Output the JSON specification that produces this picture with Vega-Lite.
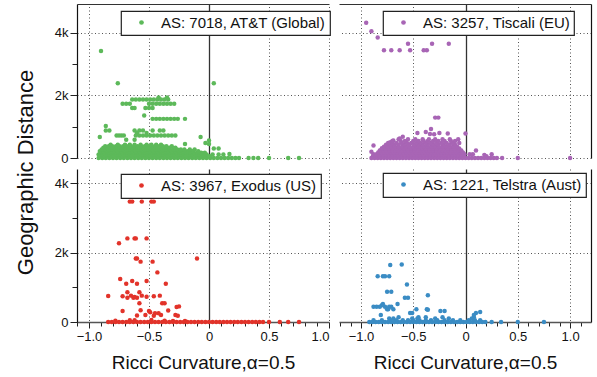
{
  "$schema": "https://vega.github.io/schema/vega-lite/v6.json",
  "background": "white",
  "padding": {"left": 14, "top": 4, "right": 4, "bottom": 4},
  "config": {
    "font": "Liberation Sans",
    "view": {"stroke": null},
    "axis": {"labelFontSize": 13, "labelColor": "#111", "tickColor": "#222", "titleFontWeight": "normal", "titleColor": "#111"},
    "legend": {
      "strokeColor": "#222", "strokeWidth": 1.2, "fillColor": "white", "padding": 4,
      "labelFontSize": 15, "labelColor": "#111", "labelOffset": 12, "symbolOffset": 9,
      "symbolType": "circle", "symbolSize": 22, "symbolStrokeWidth": 0, "labelLimit": 400
    }
  },
  "datasets": {
    "att": [
      {"x":-0.92,"y":0},{"x":-0.89,"y":0},{"x":-0.86,"y":0},{"x":-0.83,"y":0},{"x":-0.8,"y":0},{"x":-0.77,"y":0},{"x":-0.74,"y":0},{"x":-0.71,"y":0},{"x":-0.68,"y":0},{"x":-0.65,"y":0},{"x":-0.62,"y":0},{"x":-0.59,"y":0},{"x":-0.56,"y":0},{"x":-0.53,"y":0},{"x":-0.5,"y":0},{"x":-0.47,"y":0},{"x":-0.44,"y":0},{"x":-0.41,"y":0},{"x":-0.38,"y":0},{"x":-0.35,"y":0},{"x":-0.32,"y":0},{"x":-0.29,"y":0},{"x":-0.26,"y":0},{"x":-0.23,"y":0},{"x":-0.2,"y":0},{"x":-0.17,"y":0},{"x":-0.14,"y":0},{"x":-0.11,"y":0},{"x":-0.08,"y":0},{"x":-0.05,"y":0},{"x":-0.02,"y":0},{"x":0.01,"y":0},{"x":0.04,"y":0},{"x":0.07,"y":0},{"x":0.1,"y":0},{"x":0.13,"y":0},{"x":0.16,"y":0},{"x":0.19,"y":0},{"x":0.22,"y":0},{"x":0.25,"y":0},{"x":0.33,"y":0},{"x":0.37,"y":0},{"x":0.41,"y":0},{"x":0.5,"y":0},{"x":0.66,"y":0},{"x":0.75,"y":0},
      {"x":-0.905,"y":55},{"x":-0.875,"y":55},{"x":-0.845,"y":55},{"x":-0.815,"y":55},{"x":-0.785,"y":55},{"x":-0.755,"y":55},{"x":-0.725,"y":55},{"x":-0.695,"y":55},{"x":-0.665,"y":55},{"x":-0.635,"y":55},{"x":-0.605,"y":55},{"x":-0.575,"y":55},{"x":-0.545,"y":55},{"x":-0.515,"y":55},{"x":-0.485,"y":55},{"x":-0.455,"y":55},{"x":-0.425,"y":55},{"x":-0.395,"y":55},{"x":-0.365,"y":55},{"x":-0.335,"y":55},{"x":-0.305,"y":55},{"x":-0.275,"y":55},{"x":-0.245,"y":55},{"x":-0.215,"y":55},{"x":-0.185,"y":55},{"x":-0.155,"y":55},{"x":-0.125,"y":55},{"x":-0.095,"y":55},{"x":-0.065,"y":55},{"x":-0.035,"y":55},{"x":0.005,"y":55},
      {"x":-0.92,"y":110},{"x":-0.89,"y":110},{"x":-0.86,"y":110},{"x":-0.83,"y":110},{"x":-0.8,"y":110},{"x":-0.77,"y":110},{"x":-0.74,"y":110},{"x":-0.71,"y":110},{"x":-0.68,"y":110},{"x":-0.65,"y":110},{"x":-0.62,"y":110},{"x":-0.59,"y":110},{"x":-0.56,"y":110},{"x":-0.53,"y":110},{"x":-0.5,"y":110},{"x":-0.47,"y":110},{"x":-0.44,"y":110},{"x":-0.41,"y":110},{"x":-0.38,"y":110},{"x":-0.35,"y":110},{"x":-0.32,"y":110},{"x":-0.29,"y":110},{"x":-0.26,"y":110},{"x":-0.23,"y":110},{"x":-0.2,"y":110},{"x":-0.17,"y":110},{"x":-0.14,"y":110},{"x":-0.11,"y":110},{"x":-0.08,"y":110},{"x":-0.05,"y":110},{"x":-0.02,"y":110},{"x":0.03,"y":110},{"x":0.08,"y":110},{"x":0.12,"y":110},
      {"x":-0.905,"y":165},{"x":-0.875,"y":165},{"x":-0.845,"y":165},{"x":-0.815,"y":165},{"x":-0.785,"y":165},{"x":-0.755,"y":165},{"x":-0.725,"y":165},{"x":-0.695,"y":165},{"x":-0.665,"y":165},{"x":-0.635,"y":165},{"x":-0.605,"y":165},{"x":-0.575,"y":165},{"x":-0.545,"y":165},{"x":-0.515,"y":165},{"x":-0.485,"y":165},{"x":-0.455,"y":165},{"x":-0.425,"y":165},{"x":-0.395,"y":165},{"x":-0.365,"y":165},{"x":-0.335,"y":165},{"x":-0.305,"y":165},{"x":-0.275,"y":165},{"x":-0.245,"y":165},{"x":-0.215,"y":165},{"x":-0.185,"y":165},{"x":-0.155,"y":165},{"x":-0.125,"y":165},{"x":-0.095,"y":165},{"x":-0.065,"y":165},{"x":-0.035,"y":165},
      {"x":-0.91,"y":220},{"x":-0.88,"y":220},{"x":-0.85,"y":220},{"x":-0.82,"y":220},{"x":-0.79,"y":220},{"x":-0.76,"y":220},{"x":-0.73,"y":220},{"x":-0.7,"y":220},{"x":-0.67,"y":220},{"x":-0.64,"y":220},{"x":-0.61,"y":220},{"x":-0.58,"y":220},{"x":-0.55,"y":220},{"x":-0.52,"y":220},{"x":-0.49,"y":220},{"x":-0.46,"y":220},{"x":-0.43,"y":220},{"x":-0.4,"y":220},{"x":-0.37,"y":220},{"x":-0.34,"y":220},{"x":-0.31,"y":220},{"x":-0.28,"y":220},{"x":-0.25,"y":220},{"x":-0.22,"y":220},{"x":-0.18,"y":220},{"x":-0.14,"y":220},{"x":-0.09,"y":220},
      {"x":-0.895,"y":275},{"x":-0.865,"y":275},{"x":-0.835,"y":275},{"x":-0.805,"y":275},{"x":-0.775,"y":275},{"x":-0.745,"y":275},{"x":-0.715,"y":275},{"x":-0.685,"y":275},{"x":-0.655,"y":275},{"x":-0.625,"y":275},{"x":-0.595,"y":275},{"x":-0.565,"y":275},{"x":-0.535,"y":275},{"x":-0.505,"y":275},{"x":-0.475,"y":275},{"x":-0.445,"y":275},{"x":-0.415,"y":275},{"x":-0.385,"y":275},{"x":-0.355,"y":275},{"x":-0.325,"y":275},{"x":-0.295,"y":275},{"x":-0.265,"y":275},{"x":-0.235,"y":275},{"x":-0.205,"y":275},{"x":-0.16,"y":275},{"x":-0.12,"y":275},
      {"x":-0.88,"y":330},{"x":-0.85,"y":330},{"x":-0.82,"y":330},{"x":-0.79,"y":330},{"x":-0.76,"y":330},{"x":-0.73,"y":330},{"x":-0.7,"y":330},{"x":-0.67,"y":330},{"x":-0.64,"y":330},{"x":-0.61,"y":330},{"x":-0.58,"y":330},{"x":-0.55,"y":330},{"x":-0.52,"y":330},{"x":-0.49,"y":330},{"x":-0.46,"y":330},{"x":-0.43,"y":330},{"x":-0.4,"y":330},{"x":-0.37,"y":330},{"x":-0.33,"y":330},{"x":-0.28,"y":330},
      {"x":-0.865,"y":375},{"x":-0.835,"y":375},{"x":-0.805,"y":375},{"x":-0.775,"y":375},{"x":-0.745,"y":375},{"x":-0.715,"y":375},{"x":-0.685,"y":375},{"x":-0.655,"y":375},{"x":-0.625,"y":375},{"x":-0.595,"y":375},{"x":-0.565,"y":375},{"x":-0.535,"y":375},{"x":-0.505,"y":375},{"x":-0.475,"y":375},{"x":-0.445,"y":375},{"x":-0.415,"y":375},{"x":-0.385,"y":375},{"x":-0.355,"y":375},{"x":-0.31,"y":375},
      {"x":-0.82,"y":420},{"x":-0.76,"y":420},{"x":-0.7,"y":420},{"x":-0.66,"y":420},{"x":-0.62,"y":420},{"x":-0.57,"y":420},{"x":-0.52,"y":420},{"x":-0.48,"y":420},{"x":-0.44,"y":420},{"x":-0.4,"y":420},
      {"x":-0.9,"y":3420},{"x":-0.76,"y":2390},{"x":0.04,"y":2390},{"x":-0.42,"y":1930},{"x":-0.35,"y":1930},
      {"x":-0.64,"y":1870},{"x":-0.61,"y":1870},{"x":-0.58,"y":1870},{"x":-0.55,"y":1870},{"x":-0.52,"y":1870},{"x":-0.49,"y":1870},{"x":-0.46,"y":1870},{"x":-0.43,"y":1870},{"x":-0.4,"y":1870},{"x":-0.37,"y":1870},{"x":-0.34,"y":1870},
      {"x":-0.72,"y":1730},{"x":-0.69,"y":1730},{"x":-0.66,"y":1730},{"x":-0.5,"y":1730},{"x":-0.47,"y":1730},{"x":-0.44,"y":1730},{"x":-0.41,"y":1730},{"x":-0.38,"y":1730},{"x":-0.35,"y":1730},{"x":-0.32,"y":1730},{"x":-0.29,"y":1730},
      {"x":-0.64,"y":1600},{"x":-0.62,"y":1600},{"x":-0.53,"y":1600},{"x":-0.5,"y":1600},{"x":-0.47,"y":1600},
      {"x":-0.54,"y":1360},
      {"x":-0.47,"y":1250},{"x":-0.44,"y":1250},{"x":-0.41,"y":1250},{"x":-0.38,"y":1250},{"x":-0.35,"y":1250},{"x":-0.32,"y":1250},{"x":-0.29,"y":1250},{"x":-0.26,"y":1250},{"x":-0.2,"y":1250},
      {"x":-0.86,"y":1020},
      {"x":-0.86,"y":880},{"x":-0.83,"y":880},{"x":-0.62,"y":880},{"x":-0.58,"y":880},{"x":-0.55,"y":880},{"x":-0.47,"y":880},{"x":-0.41,"y":880},{"x":-0.38,"y":880},
      {"x":-0.6,"y":800},{"x":-0.52,"y":800},
      {"x":-0.77,"y":720},{"x":-0.75,"y":720},{"x":-0.73,"y":720},{"x":-0.71,"y":720},{"x":-0.61,"y":720},{"x":-0.58,"y":720},{"x":-0.55,"y":720},{"x":-0.52,"y":720},{"x":-0.49,"y":720},{"x":-0.46,"y":720},{"x":-0.43,"y":720},{"x":-0.4,"y":720},{"x":-0.37,"y":720},{"x":-0.34,"y":720},{"x":-0.31,"y":720},{"x":-0.28,"y":720},
      {"x":-0.91,"y":670},{"x":-0.07,"y":670},{"x":-0.69,"y":580},{"x":-0.62,"y":580},
      {"x":-0.2,"y":450},{"x":-0.03,"y":480},{"x":0.0,"y":450},{"x":0.0,"y":560},{"x":0.04,"y":300},{"x":0.08,"y":300},{"x":0.17,"y":130}
    ],
    "tiscali": [
      {"x":-0.95,"y":4320},{"x":-0.9,"y":4050},{"x":-0.84,"y":3850},{"x":-0.55,"y":3650},{"x":-0.32,"y":3650},{"x":-0.16,"y":3650},
      {"x":-0.78,"y":3440},{"x":-0.71,"y":3440},{"x":-0.63,"y":3440},{"x":-0.53,"y":3440},{"x":-0.4,"y":3440},{"x":-0.37,"y":3440},
      {"x":-0.29,"y":1290},{"x":-0.26,"y":1290},{"x":-0.33,"y":930},
      {"x":-0.46,"y":800},{"x":-0.38,"y":830},{"x":-0.34,"y":770},{"x":-0.3,"y":760},{"x":-0.25,"y":800},{"x":-0.17,"y":780},{"x":0.0,"y":780},
      {"x":-0.88,"y":400},{"x":-0.9,"y":200},{"x":-0.8,"y":300},{"x":-0.72,"y":500},{"x":-0.69,"y":560},{"x":-0.63,"y":620},{"x":-0.6,"y":680},{"x":-0.57,"y":520},
      {"x":-0.9,"y":0},{"x":-0.87,"y":0},{"x":-0.84,"y":0},{"x":-0.81,"y":0},{"x":-0.78,"y":0},{"x":-0.75,"y":0},{"x":-0.72,"y":0},{"x":-0.69,"y":0},{"x":-0.66,"y":0},{"x":-0.63,"y":0},{"x":-0.6,"y":0},{"x":-0.57,"y":0},{"x":-0.54,"y":0},{"x":-0.51,"y":0},{"x":-0.48,"y":0},{"x":-0.45,"y":0},{"x":-0.42,"y":0},{"x":-0.39,"y":0},{"x":-0.36,"y":0},{"x":-0.33,"y":0},{"x":-0.3,"y":0},{"x":-0.27,"y":0},{"x":-0.24,"y":0},{"x":-0.21,"y":0},{"x":-0.18,"y":0},{"x":-0.15,"y":0},{"x":-0.12,"y":0},{"x":-0.09,"y":0},{"x":-0.06,"y":0},{"x":-0.03,"y":0},{"x":0.0,"y":0},{"x":0.03,"y":0},{"x":0.06,"y":0},{"x":0.09,"y":0},{"x":0.12,"y":0},{"x":0.15,"y":0},{"x":0.18,"y":0},{"x":0.21,"y":0},{"x":0.24,"y":0},{"x":0.27,"y":0},{"x":0.3,"y":0},{"x":0.35,"y":0},{"x":0.5,"y":0},{"x":1.0,"y":0},
      {"x":-0.885,"y":60},{"x":-0.855,"y":60},{"x":-0.825,"y":60},{"x":-0.795,"y":60},{"x":-0.765,"y":60},{"x":-0.735,"y":60},{"x":-0.705,"y":60},{"x":-0.675,"y":60},{"x":-0.645,"y":60},{"x":-0.615,"y":60},{"x":-0.585,"y":60},{"x":-0.555,"y":60},{"x":-0.525,"y":60},{"x":-0.495,"y":60},{"x":-0.465,"y":60},{"x":-0.435,"y":60},{"x":-0.405,"y":60},{"x":-0.375,"y":60},{"x":-0.345,"y":60},{"x":-0.315,"y":60},{"x":-0.285,"y":60},{"x":-0.255,"y":60},{"x":-0.225,"y":60},{"x":-0.195,"y":60},{"x":-0.165,"y":60},{"x":-0.135,"y":60},{"x":-0.105,"y":60},{"x":-0.075,"y":60},{"x":-0.045,"y":60},{"x":-0.015,"y":60},
      {"x":-0.88,"y":120},{"x":-0.85,"y":120},{"x":-0.82,"y":120},{"x":-0.79,"y":120},{"x":-0.76,"y":120},{"x":-0.73,"y":120},{"x":-0.7,"y":120},{"x":-0.67,"y":120},{"x":-0.64,"y":120},{"x":-0.61,"y":120},{"x":-0.58,"y":120},{"x":-0.55,"y":120},{"x":-0.52,"y":120},{"x":-0.49,"y":120},{"x":-0.46,"y":120},{"x":-0.43,"y":120},{"x":-0.4,"y":120},{"x":-0.37,"y":120},{"x":-0.34,"y":120},{"x":-0.31,"y":120},{"x":-0.28,"y":120},{"x":-0.25,"y":120},{"x":-0.22,"y":120},{"x":-0.19,"y":120},{"x":-0.16,"y":120},{"x":-0.13,"y":120},{"x":-0.1,"y":120},{"x":-0.07,"y":120},{"x":-0.04,"y":120},{"x":-0.01,"y":120},{"x":0.04,"y":120},{"x":0.07,"y":120},
      {"x":-0.835,"y":180},{"x":-0.805,"y":180},{"x":-0.775,"y":180},{"x":-0.745,"y":180},{"x":-0.715,"y":180},{"x":-0.685,"y":180},{"x":-0.655,"y":180},{"x":-0.625,"y":180},{"x":-0.595,"y":180},{"x":-0.565,"y":180},{"x":-0.535,"y":180},{"x":-0.505,"y":180},{"x":-0.475,"y":180},{"x":-0.445,"y":180},{"x":-0.415,"y":180},{"x":-0.385,"y":180},{"x":-0.355,"y":180},{"x":-0.325,"y":180},{"x":-0.295,"y":180},{"x":-0.265,"y":180},{"x":-0.235,"y":180},{"x":-0.205,"y":180},{"x":-0.175,"y":180},{"x":-0.145,"y":180},{"x":-0.115,"y":180},{"x":-0.085,"y":180},{"x":-0.055,"y":180},{"x":-0.025,"y":180},
      {"x":-0.82,"y":240},{"x":-0.79,"y":240},{"x":-0.76,"y":240},{"x":-0.73,"y":240},{"x":-0.7,"y":240},{"x":-0.67,"y":240},{"x":-0.64,"y":240},{"x":-0.61,"y":240},{"x":-0.58,"y":240},{"x":-0.55,"y":240},{"x":-0.52,"y":240},{"x":-0.49,"y":240},{"x":-0.46,"y":240},{"x":-0.43,"y":240},{"x":-0.4,"y":240},{"x":-0.37,"y":240},{"x":-0.34,"y":240},{"x":-0.31,"y":240},{"x":-0.28,"y":240},{"x":-0.25,"y":240},{"x":-0.22,"y":240},{"x":-0.19,"y":240},{"x":-0.16,"y":240},{"x":-0.13,"y":240},{"x":-0.1,"y":240},{"x":-0.07,"y":240},{"x":-0.04,"y":240},{"x":0.1,"y":240},
      {"x":-0.8,"y":300},{"x":-0.765,"y":300},{"x":-0.73,"y":300},{"x":-0.695,"y":300},{"x":-0.66,"y":300},{"x":-0.625,"y":300},{"x":-0.59,"y":300},{"x":-0.555,"y":300},{"x":-0.52,"y":300},{"x":-0.485,"y":300},{"x":-0.45,"y":300},{"x":-0.415,"y":300},{"x":-0.38,"y":300},{"x":-0.345,"y":300},{"x":-0.31,"y":300},{"x":-0.275,"y":300},{"x":-0.24,"y":300},{"x":-0.205,"y":300},{"x":-0.17,"y":300},{"x":-0.135,"y":300},{"x":-0.1,"y":300},{"x":-0.06,"y":300},
      {"x":-0.78,"y":360},{"x":-0.745,"y":360},{"x":-0.71,"y":360},{"x":-0.675,"y":360},{"x":-0.64,"y":360},{"x":-0.605,"y":360},{"x":-0.57,"y":360},{"x":-0.535,"y":360},{"x":-0.5,"y":360},{"x":-0.465,"y":360},{"x":-0.43,"y":360},{"x":-0.395,"y":360},{"x":-0.36,"y":360},{"x":-0.325,"y":360},{"x":-0.29,"y":360},{"x":-0.255,"y":360},{"x":-0.22,"y":360},{"x":-0.185,"y":360},{"x":-0.15,"y":360},{"x":-0.115,"y":360},{"x":-0.08,"y":360},
      {"x":-0.76,"y":420},{"x":-0.72,"y":420},{"x":-0.68,"y":420},{"x":-0.64,"y":420},{"x":-0.59,"y":420},{"x":-0.54,"y":420},{"x":-0.49,"y":420},{"x":-0.45,"y":420},{"x":-0.41,"y":420},{"x":-0.36,"y":420},{"x":-0.31,"y":420},{"x":-0.26,"y":420},{"x":-0.21,"y":420},{"x":-0.15,"y":420},{"x":-0.1,"y":420},
      {"x":-0.74,"y":480},{"x":-0.7,"y":480},{"x":-0.66,"y":480},{"x":-0.61,"y":480},{"x":-0.56,"y":480},{"x":-0.52,"y":480},{"x":-0.47,"y":480},{"x":-0.43,"y":480},{"x":-0.38,"y":480},{"x":-0.33,"y":480},{"x":-0.28,"y":480},{"x":-0.23,"y":480},{"x":-0.18,"y":480},{"x":-0.12,"y":480},{"x":-0.06,"y":480},
      {"x":-0.7,"y":540},{"x":-0.62,"y":540},{"x":-0.58,"y":540},{"x":-0.5,"y":540},{"x":-0.45,"y":540},{"x":-0.4,"y":540},{"x":-0.36,"y":540},{"x":-0.31,"y":540},{"x":-0.26,"y":540},{"x":-0.2,"y":540},{"x":-0.14,"y":540},{"x":-0.1,"y":540},
      {"x":-0.64,"y":600},{"x":-0.55,"y":600},{"x":-0.48,"y":600},{"x":-0.41,"y":600},{"x":-0.35,"y":600},{"x":-0.29,"y":600},{"x":-0.22,"y":600},{"x":-0.15,"y":600},{"x":-0.07,"y":600},
      {"x":0.18,"y":100},{"x":0.25,"y":120},{"x":0.2,"y":60}
    ],
    "exodus": [
      {"x":-0.66,"y":3470},{"x":-0.64,"y":3470},{"x":-0.56,"y":3470},{"x":-0.48,"y":3470},{"x":-0.46,"y":3470},
      {"x":-0.68,"y":2410},{"x":-0.62,"y":2410},{"x":-0.61,"y":2410},{"x":-0.52,"y":2410},{"x":-0.75,"y":2270},
      {"x":-0.61,"y":1830},{"x":-0.6,"y":1830},{"x":-0.1,"y":1830},{"x":-0.57,"y":1740},{"x":-0.47,"y":1740},
      {"x":-0.43,"y":1430},{"x":-0.74,"y":1240},{"x":-0.64,"y":1180},{"x":-0.52,"y":1180},
      {"x":-0.69,"y":1100},{"x":-0.6,"y":1100},{"x":-0.36,"y":1100},{"x":-0.68,"y":860},{"x":-0.58,"y":860},
      {"x":-0.84,"y":750},{"x":-0.72,"y":740},{"x":-0.65,"y":760},{"x":-0.62,"y":720},{"x":-0.56,"y":760},{"x":-0.52,"y":730},{"x":-0.46,"y":740},{"x":-0.41,"y":760},
      {"x":-0.68,"y":700},{"x":-0.63,"y":700},{"x":-0.6,"y":700},
      {"x":-0.58,"y":540},{"x":-0.39,"y":540},{"x":-0.37,"y":540},{"x":-0.25,"y":450},{"x":-0.27,"y":430},
      {"x":-0.72,"y":320},{"x":-0.57,"y":340},{"x":-0.5,"y":320},{"x":-0.34,"y":330},
      {"x":-0.49,"y":280},{"x":-0.45,"y":250},{"x":-0.42,"y":250},
      {"x":-0.6,"y":190},{"x":-0.53,"y":200},{"x":-0.46,"y":180},{"x":-0.4,"y":200},{"x":-0.28,"y":200},{"x":-0.26,"y":180},
      {"x":-0.78,"y":40},{"x":-0.66,"y":50},{"x":-0.62,"y":50},{"x":-0.48,"y":60},{"x":-0.37,"y":40},{"x":-0.3,"y":30},{"x":-0.2,"y":30},
      {"x":-0.84,"y":0},{"x":-0.81,"y":0},{"x":-0.78,"y":0},{"x":-0.75,"y":0},{"x":-0.72,"y":0},{"x":-0.69,"y":0},{"x":-0.66,"y":0},{"x":-0.63,"y":0},{"x":-0.6,"y":0},{"x":-0.57,"y":0},{"x":-0.54,"y":0},{"x":-0.51,"y":0},{"x":-0.48,"y":0},{"x":-0.45,"y":0},{"x":-0.42,"y":0},{"x":-0.39,"y":0},{"x":-0.36,"y":0},{"x":-0.33,"y":0},{"x":-0.3,"y":0},{"x":-0.27,"y":0},{"x":-0.24,"y":0},{"x":-0.21,"y":0},{"x":-0.18,"y":0},{"x":-0.15,"y":0},{"x":-0.12,"y":0},{"x":-0.09,"y":0},{"x":-0.06,"y":0},{"x":-0.03,"y":0},{"x":0.0,"y":0},{"x":0.03,"y":0},{"x":0.06,"y":0},{"x":0.09,"y":0},{"x":0.12,"y":0},{"x":0.15,"y":0},{"x":0.18,"y":0},{"x":0.21,"y":0},{"x":0.24,"y":0},{"x":0.27,"y":0},{"x":0.3,"y":0},{"x":0.33,"y":0},{"x":0.36,"y":0},{"x":0.39,"y":0},{"x":0.42,"y":0},{"x":0.45,"y":0},{"x":0.5,"y":0},{"x":0.59,"y":0},{"x":0.66,"y":0},{"x":0.75,"y":0}
    ],
    "telstra": [
      {"x":-0.72,"y":1640},{"x":-0.61,"y":1660},
      {"x":-0.84,"y":1320},{"x":-0.79,"y":1320},{"x":-0.77,"y":1320},{"x":-0.73,"y":1320},
      {"x":-0.56,"y":1080},{"x":-0.75,"y":870},{"x":-0.71,"y":870},{"x":-0.36,"y":770},{"x":-0.58,"y":700},{"x":-0.55,"y":700},
      {"x":-0.79,"y":520},{"x":-0.65,"y":520},{"x":-0.8,"y":480},
      {"x":-0.88,"y":440},{"x":-0.85,"y":440},{"x":-0.82,"y":440},{"x":-0.77,"y":440},{"x":-0.73,"y":440},{"x":-0.71,"y":440},
      {"x":-0.75,"y":370},{"x":-0.74,"y":370},{"x":-0.69,"y":370},{"x":-0.47,"y":370},{"x":-0.37,"y":370},{"x":-0.36,"y":350},
      {"x":-0.24,"y":320},{"x":-0.2,"y":320},{"x":-0.53,"y":260},{"x":-0.51,"y":260},{"x":0.1,"y":260},{"x":0.14,"y":290},
      {"x":-0.81,"y":200},{"x":0.08,"y":200},
      {"x":-0.64,"y":140},{"x":-0.45,"y":140},{"x":-0.38,"y":140},{"x":-0.22,"y":140},{"x":0.08,"y":140},
      {"x":-0.73,"y":100},{"x":-0.69,"y":100},{"x":-0.51,"y":100},{"x":-0.46,"y":100},{"x":-0.29,"y":100},{"x":-0.16,"y":100},{"x":0.06,"y":100},
      {"x":-0.88,"y":50},{"x":-0.8,"y":50},{"x":-0.72,"y":50},{"x":-0.66,"y":50},{"x":-0.6,"y":50},{"x":-0.55,"y":50},{"x":-0.5,"y":50},{"x":-0.44,"y":50},{"x":-0.38,"y":50},{"x":-0.33,"y":50},{"x":-0.27,"y":50},{"x":-0.2,"y":50},{"x":-0.12,"y":50},{"x":-0.05,"y":50},{"x":0.03,"y":50},{"x":0.09,"y":50},{"x":0.14,"y":50},
      {"x":-0.92,"y":0},{"x":-0.89,"y":0},{"x":-0.86,"y":0},{"x":-0.83,"y":0},{"x":-0.8,"y":0},{"x":-0.77,"y":0},{"x":-0.74,"y":0},{"x":-0.71,"y":0},{"x":-0.68,"y":0},{"x":-0.65,"y":0},{"x":-0.62,"y":0},{"x":-0.59,"y":0},{"x":-0.56,"y":0},{"x":-0.53,"y":0},{"x":-0.5,"y":0},{"x":-0.47,"y":0},{"x":-0.44,"y":0},{"x":-0.41,"y":0},{"x":-0.38,"y":0},{"x":-0.35,"y":0},{"x":-0.32,"y":0},{"x":-0.29,"y":0},{"x":-0.26,"y":0},{"x":-0.23,"y":0},{"x":-0.2,"y":0},{"x":-0.17,"y":0},{"x":-0.14,"y":0},{"x":-0.11,"y":0},{"x":-0.08,"y":0},{"x":-0.05,"y":0},{"x":-0.02,"y":0},{"x":0.01,"y":0},{"x":0.04,"y":0},{"x":0.07,"y":0},{"x":0.1,"y":0},{"x":0.13,"y":0},{"x":0.16,"y":0},{"x":0.19,"y":0},{"x":0.25,"y":0},{"x":0.34,"y":0},{"x":0.5,"y":0},{"x":0.75,"y":0}
    ]
  },
  "columns": 2,
  "spacing": {"row": 11, "column": 10},
  "bounds": "flush",
  "resolve": {"scale": {"x": "independent", "y": "independent", "color": "independent"}, "legend": {"color": "independent"}},
  "concat": [
    {
      "width": 252, "height": 154,
      "data": {"name": "att"},
      "mark": {"type": "circle", "size": 20, "opacity": 1},
      "encoding": {
        "x": {"field": "x", "type": "quantitative",
          "scale": {"domain": [-1.1, 1.0], "nice": false, "zero": false},
          "axis": {"orient": "top", "title": null, "labels": false, "ticks": false, "domain": true, "domainColor": "#333", "domainWidth": 1,
            "values": [-1.0, -0.5, 0, 0.5, 1.0], "grid": true,
            "gridDash": {"condition": {"test": "abs(datum.value) < 1e-6", "value": []}, "value": [1, 2.5]},
            "gridColor": {"condition": {"test": "abs(datum.value) < 1e-6", "value": "#333"}, "value": "#555"},
            "gridWidth": {"condition": {"test": "abs(datum.value) < 1e-6", "value": 1.3}, "value": 1}}},
        "y": {"field": "y", "type": "quantitative",
          "scale": {"domain": [0, 4920], "nice": false, "zero": false},
          "axis": {"values": [0, 1000, 2000, 3000, 4000],
            "labelExpr": "datum.value % 2000 === 0 ? (datum.value === 0 ? '0' : format(datum.value / 1000, 'd') + 'k') : ''",
            "tickSize": {"condition": {"test": "datum.value % 2000 === 0", "value": 7}, "value": 5},
            "labelPadding": 2, "domainColor": "#111", "domainWidth": 1.2,
            "grid": true, "gridDash": [1, 2.5], "gridColor": "#555",
            "gridOpacity": {"condition": {"test": "datum.value % 2000 !== 0", "value": 0}, "value": 1},
            "title": "Geographic Distance", "titleFontSize": 22, "titleX": -45, "titleY": 168,
            "titleAngle": -90, "titleAlign": "center", "titleBaseline": "alphabetic"}},
        "color": {"datum": "AS: 7018, AT&T (Global)", "type": "nominal", "scale": {"range": ["#5db95a"]},
          "legend": {"title": null, "orient": "none", "legendX": 44, "legendY": 7}}
      }
    },
    {
      "width": 252, "height": 154,
      "data": {"name": "tiscali"},
      "mark": {"type": "circle", "size": 20, "opacity": 1},
      "encoding": {
        "x": {"field": "x", "type": "quantitative",
          "scale": {"domain": [-1.21, 1.2], "nice": false, "zero": false},
          "axis": {"orient": "top", "title": null, "labels": false, "ticks": false, "domain": true, "domainColor": "#333", "domainWidth": 1,
            "values": [-1.0, -0.5, 0, 0.5, 1.0], "grid": true,
            "gridDash": {"condition": {"test": "abs(datum.value) < 1e-6", "value": []}, "value": [1, 2.5]},
            "gridColor": {"condition": {"test": "abs(datum.value) < 1e-6", "value": "#333"}, "value": "#555"},
            "gridWidth": {"condition": {"test": "abs(datum.value) < 1e-6", "value": 1.3}, "value": 1}}},
        "y": {"field": "y", "type": "quantitative",
          "scale": {"domain": [0, 4920], "nice": false, "zero": false},
          "axis": {"orient": "right", "values": [0, 2000, 4000], "labels": false, "ticks": false, "title": null,
            "domain": true, "domainColor": "#111", "domainWidth": 1.2,
            "grid": true, "gridDash": [1, 2.5], "gridColor": "#555"}},
        "color": {"datum": "AS: 3257, Tiscali (EU)", "type": "nominal", "scale": {"range": ["#a865b5"]},
          "legend": {"title": null, "orient": "none", "legendX": 44, "legendY": 7}}
      }
    },
    {
      "width": 252, "height": 153,
      "data": {"name": "exodus"},
      "mark": {"type": "circle", "size": 20, "opacity": 1},
      "encoding": {
        "x": {"field": "x", "type": "quantitative",
          "scale": {"domain": [-1.1, 1.0], "nice": false, "zero": false},
          "axis": {"title": "Ricci Curvature,α=0.5", "titleFontSize": 19, "titlePadding": 10,
            "values": [-1.1, -1.0, -0.9, -0.8, -0.7, -0.6, -0.5, -0.4, -0.3, -0.2, -0.1, 0, 0.1, 0.2, 0.3, 0.4, 0.5, 0.6, 0.7, 0.8, 0.9, 1.0],
            "labelExpr": "abs(datum.value * 2 - round(datum.value * 2)) < 1e-6 ? (abs(datum.value) < 1e-6 ? '0' : replace(format(datum.value, '.1f'), '-', '\u2212')) : ''",
            "tickSize": {"condition": {"test": "abs(datum.value * 2 - round(datum.value * 2)) < 1e-6", "value": 6}, "value": 4},
            "labelPadding": 2, "domainColor": "#555", "domainWidth": 1.5,
            "grid": true,
            "gridOpacity": {"condition": {"test": "abs(datum.value * 2 - round(datum.value * 2)) > 1e-6", "value": 0}, "value": 1},
            "gridDash": {"condition": {"test": "abs(datum.value) < 1e-6", "value": []}, "value": [1, 2.5]},
            "gridColor": {"condition": {"test": "abs(datum.value) < 1e-6", "value": "#333"}, "value": "#555"},
            "gridWidth": {"condition": {"test": "abs(datum.value) < 1e-6", "value": 1.3}, "value": 1}}},
        "y": {"field": "y", "type": "quantitative",
          "scale": {"domain": [0, 4410], "nice": false, "zero": false},
          "axis": {"values": [0, 1000, 2000, 3000, 4000],
            "labelExpr": "datum.value % 2000 === 0 ? (datum.value === 0 ? '0' : format(datum.value / 1000, 'd') + 'k') : ''",
            "tickSize": {"condition": {"test": "datum.value % 2000 === 0", "value": 7}, "value": 5},
            "labelPadding": 2, "domainColor": "#111", "domainWidth": 1.2, "title": null,
            "grid": true, "gridDash": [1, 2.5], "gridColor": "#555",
            "gridOpacity": {"condition": {"test": "datum.value % 2000 !== 0", "value": 0}, "value": 1}}},
        "color": {"datum": "AS: 3967, Exodus (US)", "type": "nominal", "scale": {"range": ["#e2332a"]},
          "legend": {"title": null, "orient": "none", "legendX": 44, "legendY": 5}}
      }
    },
    {
      "width": 252, "height": 153,
      "data": {"name": "telstra"},
      "mark": {"type": "circle", "size": 20, "opacity": 1},
      "encoding": {
        "x": {"field": "x", "type": "quantitative",
          "scale": {"domain": [-1.21, 1.2], "nice": false, "zero": false},
          "axis": {"title": "Ricci Curvature,α=0.5", "titleFontSize": 19, "titlePadding": 10,
            "values": [-1.2, -1.1, -1.0, -0.9, -0.8, -0.7, -0.6, -0.5, -0.4, -0.3, -0.2, -0.1, 0, 0.1, 0.2, 0.3, 0.4, 0.5, 0.6, 0.7, 0.8, 0.9, 1.0, 1.1],
            "labelExpr": "abs(datum.value * 2 - round(datum.value * 2)) < 1e-6 ? (abs(datum.value) < 1e-6 ? '0' : replace(format(datum.value, '.1f'), '-', '\u2212')) : ''",
            "tickSize": {"condition": {"test": "abs(datum.value * 2 - round(datum.value * 2)) < 1e-6", "value": 6}, "value": 4},
            "labelPadding": 2, "domainColor": "#555", "domainWidth": 1.5,
            "grid": true,
            "gridOpacity": {"condition": {"test": "abs(datum.value * 2 - round(datum.value * 2)) > 1e-6", "value": 0}, "value": 1},
            "gridDash": {"condition": {"test": "abs(datum.value) < 1e-6", "value": []}, "value": [1, 2.5]},
            "gridColor": {"condition": {"test": "abs(datum.value) < 1e-6", "value": "#333"}, "value": "#555"},
            "gridWidth": {"condition": {"test": "abs(datum.value) < 1e-6", "value": 1.3}, "value": 1}}},
        "y": {"field": "y", "type": "quantitative",
          "scale": {"domain": [0, 4410], "nice": false, "zero": false},
          "axis": {"orient": "right", "values": [2000, 4000], "labels": false, "ticks": false, "title": null,
            "domain": true, "domainColor": "#111", "domainWidth": 1.2,
            "grid": true, "gridDash": [1, 2.5], "gridColor": "#555"}},
        "color": {"datum": "AS: 1221, Telstra (Aust)", "type": "nominal", "scale": {"range": ["#3a8cc4"]},
          "legend": {"title": null, "orient": "none", "legendX": 44, "legendY": 4}}
      }
    }
  ]
}
